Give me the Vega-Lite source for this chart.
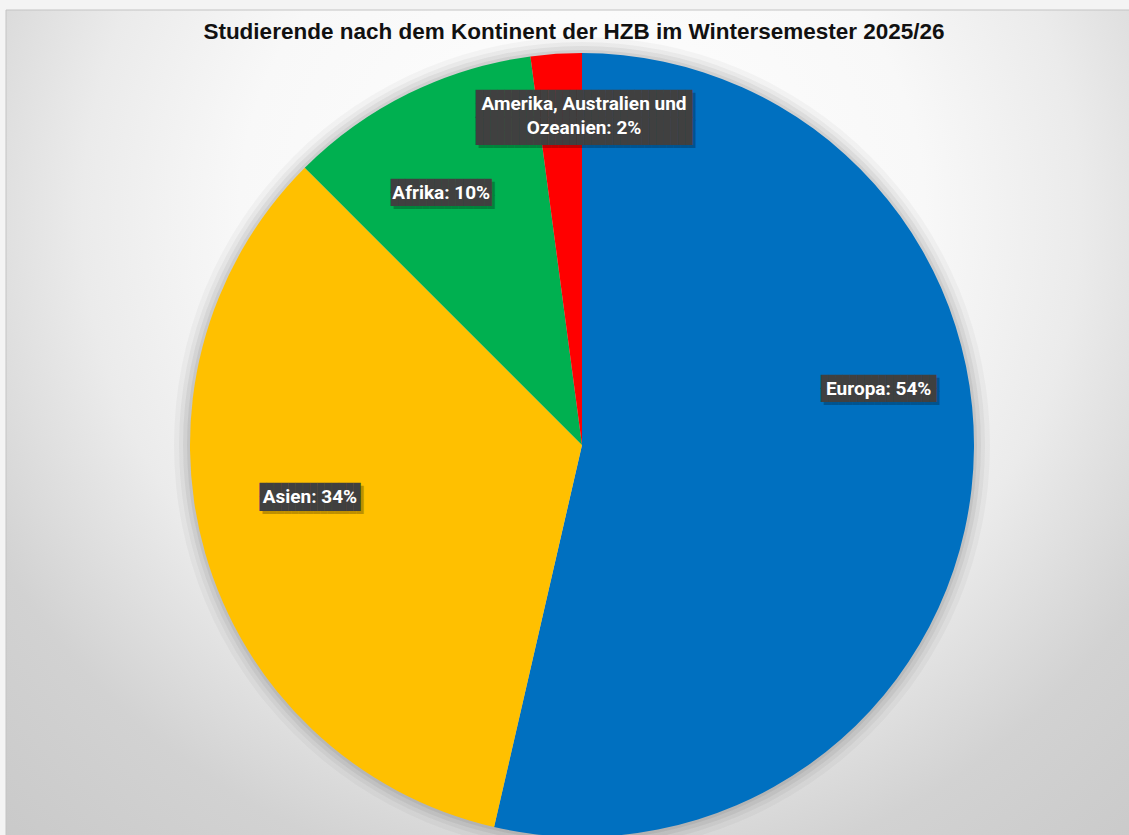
{
  "$schema": "https://vega.github.io/schema/vega-lite/v6.json",
  "width": 1152,
  "height": 870,
  "autosize": "none",
  "padding": {"left": 6, "top": 10, "right": -29, "bottom": -45},
  "background": "#f4f4f4",
  "config": {"view": {"stroke": null}},
  "title": {
    "text": "Studierende nach dem Kontinent der HZB im Wintersemester 2025/26",
    "font": "Liberation Sans",
    "fontSize": 22.5,
    "fontWeight": "bold",
    "color": "#111111",
    "anchor": "middle",
    "frame": "group",
    "orient": "top",
    "baseline": "alphabetic",
    "offset": -31,
    "dx": -8,
    "dy": 21
  },
  "data": {
    "values": [
      {"Kontinent": "Europa", "Anteil": 53.6, "Reihenfolge": 1, "Beschriftung": "Europa: 54%"},
      {"Kontinent": "Asien", "Anteil": 33.9, "Reihenfolge": 2, "Beschriftung": "Asien: 34%"},
      {"Kontinent": "Afrika", "Anteil": 10.4, "Reihenfolge": 3, "Beschriftung": "Afrika: 10%"},
      {"Kontinent": "Amerika, Australien und Ozeanien", "Anteil": 2.1, "Reihenfolge": 4, "Beschriftung": "Amerika, Australien und\nOzeanien: 2%"}
    ]
  },
  "layer": [
    {
      "transform": [{"aggregate": [{"op": "sum", "field": "Anteil", "as": "Gesamt"}]}],
      "mark": {
        "type": "rect",
        "stroke": "#c4c4c4",
        "strokeWidth": 1,
        "color": {
          "gradient": "radial",
          "x1": 0.5, "y1": 0.3, "r1": 0,
          "x2": 0.5, "y2": 0.3, "r2": 0.85,
          "stops": [
            {"offset": 0, "color": "#ffffff"},
            {"offset": 0.35, "color": "#f8f8f8"},
            {"offset": 0.51, "color": "#ebebeb"},
            {"offset": 0.69, "color": "#d2d2d2"},
            {"offset": 1, "color": "#c3c3c3"}
          ]
        }
      },
      "encoding": {}
    },
    {
      "transform": [{"aggregate": [{"op": "sum", "field": "Anteil", "as": "Gesamt"}]}],
      "mark": {"type": "arc", "outerRadius": 408, "color": "#000000", "opacity": 0.03},
      "encoding": {"theta": {"field": "Gesamt", "type": "quantitative", "stack": true}}
    },
    {
      "transform": [{"aggregate": [{"op": "sum", "field": "Anteil", "as": "Gesamt"}]}],
      "mark": {"type": "arc", "outerRadius": 403, "color": "#000000", "opacity": 0.04},
      "encoding": {"theta": {"field": "Gesamt", "type": "quantitative", "stack": true}}
    },
    {
      "transform": [{"aggregate": [{"op": "sum", "field": "Anteil", "as": "Gesamt"}]}],
      "mark": {"type": "arc", "outerRadius": 399, "color": "#000000", "opacity": 0.05},
      "encoding": {"theta": {"field": "Gesamt", "type": "quantitative", "stack": true}}
    },
    {
      "transform": [{"aggregate": [{"op": "sum", "field": "Anteil", "as": "Gesamt"}]}],
      "mark": {"type": "arc", "outerRadius": 395, "color": "#000000", "opacity": 0.06},
      "encoding": {"theta": {"field": "Gesamt", "type": "quantitative", "stack": true}}
    },
    {
      "mark": {"type": "arc", "outerRadius": 392, "strokeWidth": 0},
      "encoding": {
        "theta": {"field": "Anteil", "type": "quantitative", "stack": true},
        "order": {"field": "Reihenfolge", "type": "quantitative"},
        "color": {
          "field": "Kontinent",
          "type": "nominal",
          "scale": {
            "domain": ["Europa", "Asien", "Afrika", "Amerika, Australien und Ozeanien"],
            "range": ["#0070C0", "#FFC000", "#00B050", "#FF0000"]
          },
          "legend": null
        }
      }
    },
    {
      "mark": {
        "type": "text",
        "font": "DejaVu Sans Mono",
        "fontSize": 12,
        "lineHeight": 13.5,
        "align": "center",
        "baseline": "middle",
        "color": "#000000",
        "opacity": 0.25,
        "dx": 3,
        "dy": -4,
        "radius": {"expr": "datum.Reihenfolge === 1 ? 302 : datum.Reihenfolge === 2 ? 277 : datum.Reihenfolge === 3 ? 289 : 341"},
        "thetaOffset": {"expr": "datum.Reihenfolge === 1 ? -0.30 : datum.Reihenfolge === 2 ? 0.09 : datum.Reihenfolge === 3 ? -0.05 : 0.072"},
        "text": {"expr": "datum.Reihenfolge === 1 ? ['████████████████', '████████████████'] : datum.Reihenfolge === 4 ? ['██████████████████████████████', '██████████████████████████████', '██████████████████████████████', '██████████████████████████████'] : ['██████████████', '██████████████']"}
      },
      "encoding": {
        "theta": {"field": "Anteil", "type": "quantitative", "stack": true},
        "order": {"field": "Reihenfolge", "type": "quantitative"}
      }
    },
    {
      "mark": {
        "type": "text",
        "font": "DejaVu Sans Mono",
        "fontSize": 12,
        "lineHeight": 13.5,
        "align": "center",
        "baseline": "middle",
        "color": "#404040",
        "dy": -7,
        "radius": {"expr": "datum.Reihenfolge === 1 ? 302 : datum.Reihenfolge === 2 ? 277 : datum.Reihenfolge === 3 ? 289 : 341"},
        "thetaOffset": {"expr": "datum.Reihenfolge === 1 ? -0.30 : datum.Reihenfolge === 2 ? 0.09 : datum.Reihenfolge === 3 ? -0.05 : 0.072"},
        "text": {"expr": "datum.Reihenfolge === 1 ? ['████████████████', '████████████████'] : datum.Reihenfolge === 4 ? ['██████████████████████████████', '██████████████████████████████', '██████████████████████████████', '██████████████████████████████'] : ['██████████████', '██████████████']"}
      },
      "encoding": {
        "theta": {"field": "Anteil", "type": "quantitative", "stack": true},
        "order": {"field": "Reihenfolge", "type": "quantitative"}
      }
    },
    {
      "mark": {
        "type": "text",
        "font": "Roboto",
        "fontSize": 19,
        "fontWeight": "bold",
        "lineBreak": "\n",
        "lineHeight": 24,
        "align": "center",
        "baseline": "middle",
        "color": "#ffffff",
        "radius": {"expr": "datum.Reihenfolge === 1 ? 302 : datum.Reihenfolge === 2 ? 277 : datum.Reihenfolge === 3 ? 289 : 341"},
        "thetaOffset": {"expr": "datum.Reihenfolge === 1 ? -0.30 : datum.Reihenfolge === 2 ? 0.09 : datum.Reihenfolge === 3 ? -0.05 : 0.072"}
      },
      "encoding": {
        "theta": {"field": "Anteil", "type": "quantitative", "stack": true},
        "order": {"field": "Reihenfolge", "type": "quantitative"},
        "text": {"field": "Beschriftung", "type": "nominal"}
      }
    }
  ]
}
